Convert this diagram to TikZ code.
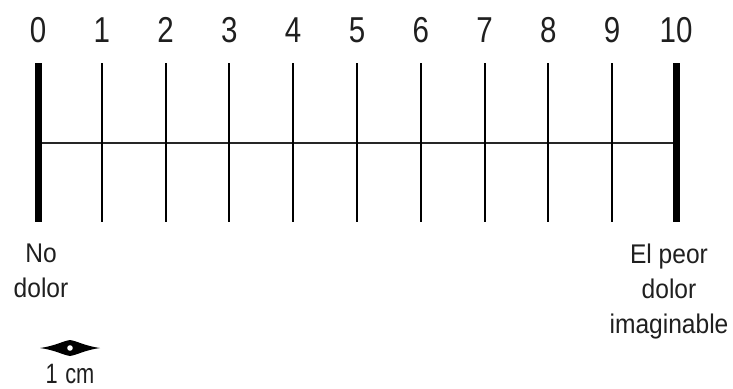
\documentclass[tikz,border=0pt]{standalone}
\usepackage{fontspec}
\setmainfont{Liberation Sans}
\begin{document}
\begin{tikzpicture}[x=1pt,y=-1pt,
  num/.style={anchor=base, font=\fontsize{36}{36}\selectfont, text=black!88, xscale=0.82, inner sep=0pt},
  lbl/.style={align=center, font=\fontsize{27}{35}\selectfont, text=black!88, xscale=0.91, inner sep=0pt, anchor=north},
  thintick/.style={line width=2pt, black},
  thicktick/.style={line width=7pt, black},
  axisline/.style={line width=2pt, black!85}]
\useasboundingbox (0,0) rectangle (733,388);
\foreach \i in {0,...,10} {
  \coordinate (t\i) at ({38+63.8*\i},63);
  \coordinate (b\i) at ({38+63.8*\i},222);
  \coordinate (m\i) at ({38+63.8*\i},143);
  \node[num] (n\i) at ({38+63.8*\i},42) {\i};
}
\draw[axisline] (m0) -- (m10);
\foreach \i in {1,...,9} { \draw[thintick] (t\i) -- (b\i); }
\draw[thicktick] (t0) -- (b0);
\draw[thicktick] (t10) -- (b10);
\node[lbl] (lo) at (41,243.5) {No\\dolor};
\node[lbl] (hi) at (669,243.5) {El peor\\dolor\\imaginable};
\fill[black] (40,348) .. controls (55,346) and (63,341) .. (70,340)
  .. controls (77,341) and (85,346) .. (100,348)
  .. controls (85,350) and (77,355) .. (70,356)
  .. controls (63,355) and (55,350) .. cycle;
\fill[white] (70,348) circle (2.8);
\node[num, font=\fontsize{28}{28}\selectfont, xscale=0.95] (cm) at (70,383) {1\hspace{0.35em}cm};
\end{tikzpicture}
\end{document}
